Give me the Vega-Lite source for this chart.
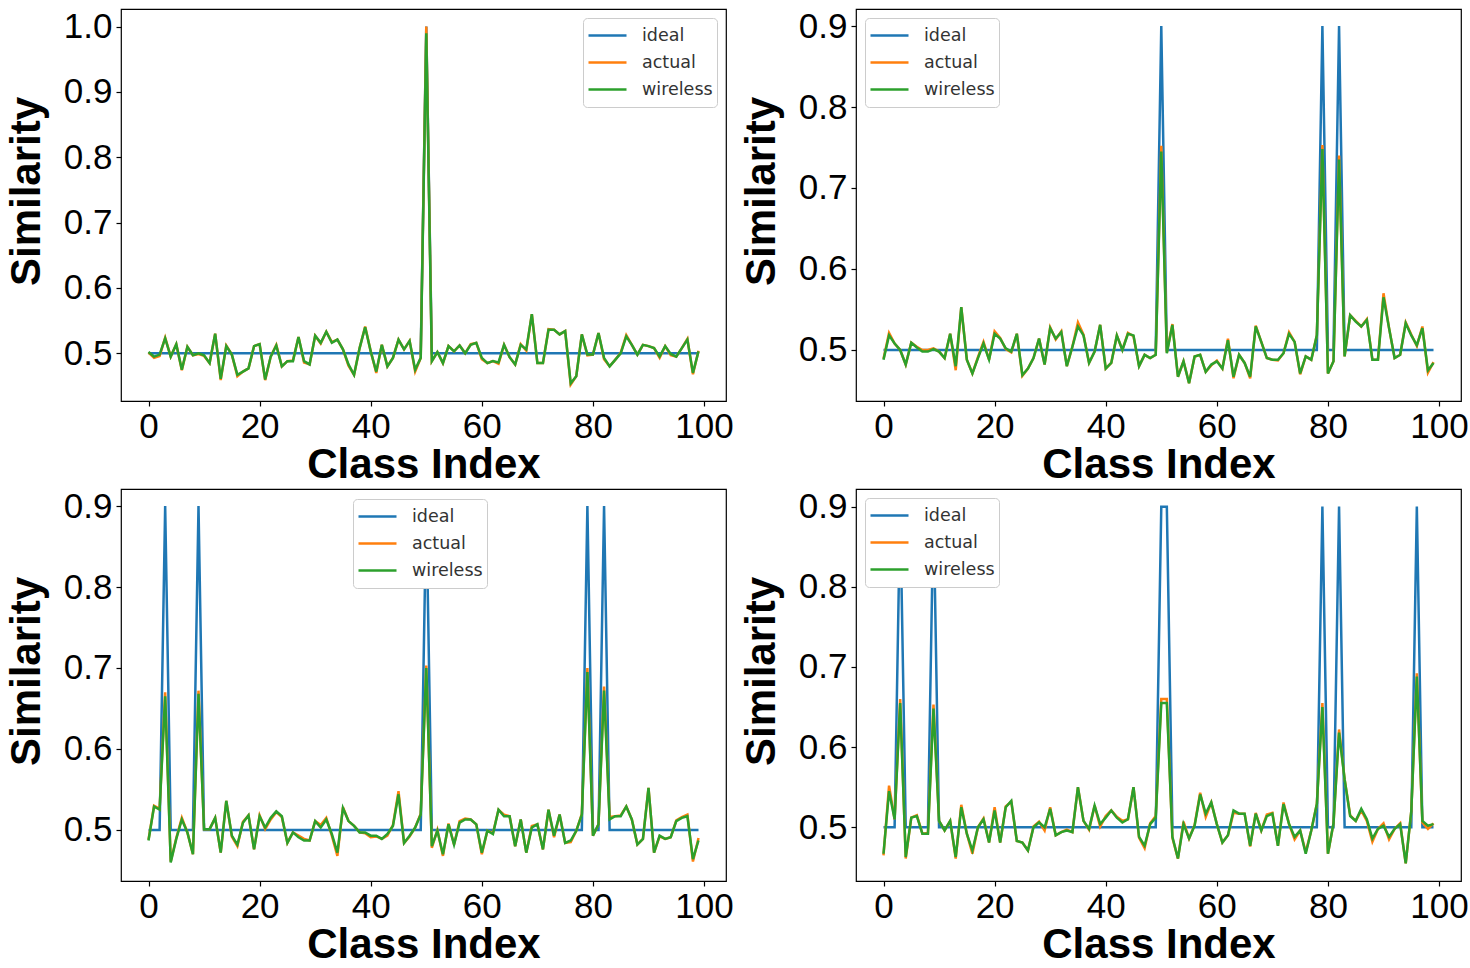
{
"$schema": "https://vega.github.io/schema/vega-lite/v6.json",
"background": "white",
"padding": {"left": 4, "top": 8, "right": 0, "bottom": 0},
"datasets": {
"p1": [
{"i":0,"ideal":0.5,"actual":0.501,"wireless":0.502},{"i":1,"ideal":0.5,"actual":0.493,"wireless":0.495},{"i":2,"ideal":0.5,"actual":0.496,"wireless":0.498},{"i":3,"ideal":0.5,"actual":0.524,"wireless":0.523},{"i":4,"ideal":0.5,"actual":0.495,"wireless":0.495},{"i":5,"ideal":0.5,"actual":0.514,"wireless":0.514},{"i":6,"ideal":0.5,"actual":0.474,"wireless":0.475},{"i":7,"ideal":0.5,"actual":0.510,"wireless":0.510},{"i":8,"ideal":0.5,"actual":0.497,"wireless":0.497},{"i":9,"ideal":0.5,"actual":0.499,"wireless":0.500},
{"i":10,"ideal":0.5,"actual":0.496,"wireless":0.497},{"i":11,"ideal":0.5,"actual":0.485,"wireless":0.485},{"i":12,"ideal":0.5,"actual":0.530,"wireless":0.530},{"i":13,"ideal":0.5,"actual":0.459,"wireless":0.461},{"i":14,"ideal":0.5,"actual":0.512,"wireless":0.511},{"i":15,"ideal":0.5,"actual":0.498,"wireless":0.498},{"i":16,"ideal":0.5,"actual":0.465,"wireless":0.467},{"i":17,"ideal":0.5,"actual":0.472,"wireless":0.472},{"i":18,"ideal":0.5,"actual":0.477,"wireless":0.477},{"i":19,"ideal":0.5,"actual":0.511,"wireless":0.511},
{"i":20,"ideal":0.5,"actual":0.514,"wireless":0.514},{"i":21,"ideal":0.5,"actual":0.459,"wireless":0.460},{"i":22,"ideal":0.5,"actual":0.495,"wireless":0.495},{"i":23,"ideal":0.5,"actual":0.513,"wireless":0.512},{"i":24,"ideal":0.5,"actual":0.480,"wireless":0.480},{"i":25,"ideal":0.5,"actual":0.488,"wireless":0.488},{"i":26,"ideal":0.5,"actual":0.489,"wireless":0.488},{"i":27,"ideal":0.5,"actual":0.525,"wireless":0.525},{"i":28,"ideal":0.5,"actual":0.486,"wireless":0.488},{"i":29,"ideal":0.5,"actual":0.483,"wireless":0.483},
{"i":30,"ideal":0.5,"actual":0.527,"wireless":0.527},{"i":31,"ideal":0.5,"actual":0.515,"wireless":0.516},{"i":32,"ideal":0.5,"actual":0.533,"wireless":0.533},{"i":33,"ideal":0.5,"actual":0.517,"wireless":0.516},{"i":34,"ideal":0.5,"actual":0.521,"wireless":0.521},{"i":35,"ideal":0.5,"actual":0.506,"wireless":0.506},{"i":36,"ideal":0.5,"actual":0.481,"wireless":0.483},{"i":37,"ideal":0.5,"actual":0.467,"wireless":0.467},{"i":38,"ideal":0.5,"actual":0.508,"wireless":0.508},{"i":39,"ideal":0.5,"actual":0.541,"wireless":0.540},
{"i":40,"ideal":0.5,"actual":0.503,"wireless":0.503},{"i":41,"ideal":0.5,"actual":0.470,"wireless":0.472},{"i":42,"ideal":0.5,"actual":0.513,"wireless":0.513},{"i":43,"ideal":0.5,"actual":0.480,"wireless":0.480},{"i":44,"ideal":0.5,"actual":0.493,"wireless":0.493},{"i":45,"ideal":0.5,"actual":0.521,"wireless":0.521},{"i":46,"ideal":0.5,"actual":0.506,"wireless":0.506},{"i":47,"ideal":0.5,"actual":0.519,"wireless":0.519},{"i":48,"ideal":0.5,"actual":0.472,"wireless":0.475},{"i":49,"ideal":0.5,"actual":0.493,"wireless":0.493},
{"i":50,"ideal":1.0,"actual":1.0,"wireless":0.99},{"i":51,"ideal":0.5,"actual":0.488,"wireless":0.488},{"i":52,"ideal":0.5,"actual":0.502,"wireless":0.502},{"i":53,"ideal":0.5,"actual":0.485,"wireless":0.485},{"i":54,"ideal":0.5,"actual":0.511,"wireless":0.511},{"i":55,"ideal":0.5,"actual":0.503,"wireless":0.503},{"i":56,"ideal":0.5,"actual":0.512,"wireless":0.512},{"i":57,"ideal":0.5,"actual":0.500,"wireless":0.500},{"i":58,"ideal":0.5,"actual":0.514,"wireless":0.513},{"i":59,"ideal":0.5,"actual":0.516,"wireless":0.516},
{"i":60,"ideal":0.5,"actual":0.491,"wireless":0.493},{"i":61,"ideal":0.5,"actual":0.485,"wireless":0.485},{"i":62,"ideal":0.5,"actual":0.488,"wireless":0.488},{"i":63,"ideal":0.5,"actual":0.484,"wireless":0.486},{"i":64,"ideal":0.5,"actual":0.513,"wireless":0.513},{"i":65,"ideal":0.5,"actual":0.494,"wireless":0.494},{"i":66,"ideal":0.5,"actual":0.483,"wireless":0.483},{"i":67,"ideal":0.5,"actual":0.514,"wireless":0.513},{"i":68,"ideal":0.5,"actual":0.504,"wireless":0.506},{"i":69,"ideal":0.5,"actual":0.560,"wireless":0.560},
{"i":70,"ideal":0.5,"actual":0.485,"wireless":0.485},{"i":71,"ideal":0.5,"actual":0.485,"wireless":0.485},{"i":72,"ideal":0.5,"actual":0.537,"wireless":0.536},{"i":73,"ideal":0.5,"actual":0.536,"wireless":0.536},{"i":74,"ideal":0.5,"actual":0.529,"wireless":0.529},{"i":75,"ideal":0.5,"actual":0.534,"wireless":0.534},{"i":76,"ideal":0.5,"actual":0.452,"wireless":0.454},{"i":77,"ideal":0.5,"actual":0.465,"wireless":0.465},{"i":78,"ideal":0.5,"actual":0.529,"wireless":0.529},{"i":79,"ideal":0.5,"actual":0.497,"wireless":0.498},
{"i":80,"ideal":0.5,"actual":0.498,"wireless":0.498},{"i":81,"ideal":0.5,"actual":0.531,"wireless":0.531},{"i":82,"ideal":0.5,"actual":0.491,"wireless":0.493},{"i":83,"ideal":0.5,"actual":0.480,"wireless":0.480},{"i":84,"ideal":0.5,"actual":0.490,"wireless":0.490},{"i":85,"ideal":0.5,"actual":0.501,"wireless":0.500},{"i":86,"ideal":0.5,"actual":0.528,"wireless":0.526},{"i":87,"ideal":0.5,"actual":0.513,"wireless":0.513},{"i":88,"ideal":0.5,"actual":0.498,"wireless":0.498},{"i":89,"ideal":0.5,"actual":0.513,"wireless":0.513},
{"i":90,"ideal":0.5,"actual":0.511,"wireless":0.511},{"i":91,"ideal":0.5,"actual":0.508,"wireless":0.508},{"i":92,"ideal":0.5,"actual":0.493,"wireless":0.495},{"i":93,"ideal":0.5,"actual":0.511,"wireless":0.511},{"i":94,"ideal":0.5,"actual":0.497,"wireless":0.499},{"i":95,"ideal":0.5,"actual":0.495,"wireless":0.495},{"i":96,"ideal":0.5,"actual":0.508,"wireless":0.508},{"i":97,"ideal":0.5,"actual":0.522,"wireless":0.521},{"i":98,"ideal":0.5,"actual":0.468,"wireless":0.470},{"i":99,"ideal":0.5,"actual":0.504,"wireless":0.503}
],
"p2": [
{"i":0,"ideal":0.5,"actual":0.489,"wireless":0.488},{"i":1,"ideal":0.5,"actual":0.521,"wireless":0.518},{"i":2,"ideal":0.5,"actual":0.508,"wireless":0.508},{"i":3,"ideal":0.5,"actual":0.500,"wireless":0.500},{"i":4,"ideal":0.5,"actual":0.482,"wireless":0.482},{"i":5,"ideal":0.5,"actual":0.509,"wireless":0.509},{"i":6,"ideal":0.5,"actual":0.504,"wireless":0.503},{"i":7,"ideal":0.5,"actual":0.500,"wireless":0.498},{"i":8,"ideal":0.5,"actual":0.500,"wireless":0.498},{"i":9,"ideal":0.5,"actual":0.502,"wireless":0.501},
{"i":10,"ideal":0.5,"actual":0.498,"wireless":0.498},{"i":11,"ideal":0.5,"actual":0.490,"wireless":0.490},{"i":12,"ideal":0.5,"actual":0.520,"wireless":0.520},{"i":13,"ideal":0.5,"actual":0.475,"wireless":0.480},{"i":14,"ideal":0.5,"actual":0.553,"wireless":0.553},{"i":15,"ideal":0.5,"actual":0.488,"wireless":0.488},{"i":16,"ideal":0.5,"actual":0.471,"wireless":0.471},{"i":17,"ideal":0.5,"actual":0.491,"wireless":0.490},{"i":18,"ideal":0.5,"actual":0.510,"wireless":0.508},{"i":19,"ideal":0.5,"actual":0.488,"wireless":0.488},
{"i":20,"ideal":0.5,"actual":0.523,"wireless":0.520},{"i":21,"ideal":0.5,"actual":0.515,"wireless":0.514},{"i":22,"ideal":0.5,"actual":0.501,"wireless":0.502},{"i":23,"ideal":0.5,"actual":0.497,"wireless":0.498},{"i":24,"ideal":0.5,"actual":0.520,"wireless":0.520},{"i":25,"ideal":0.5,"actual":0.468,"wireless":0.469},{"i":26,"ideal":0.5,"actual":0.477,"wireless":0.477},{"i":27,"ideal":0.5,"actual":0.490,"wireless":0.490},{"i":28,"ideal":0.5,"actual":0.514,"wireless":0.514},{"i":29,"ideal":0.5,"actual":0.482,"wireless":0.482},
{"i":30,"ideal":0.5,"actual":0.528,"wireless":0.527},{"i":31,"ideal":0.5,"actual":0.513,"wireless":0.514},{"i":32,"ideal":0.5,"actual":0.523,"wireless":0.522},{"i":33,"ideal":0.5,"actual":0.480,"wireless":0.480},{"i":34,"ideal":0.5,"actual":0.504,"wireless":0.504},{"i":35,"ideal":0.5,"actual":0.534,"wireless":0.529},{"i":36,"ideal":0.5,"actual":0.519,"wireless":0.518},{"i":37,"ideal":0.5,"actual":0.484,"wireless":0.484},{"i":38,"ideal":0.5,"actual":0.498,"wireless":0.498},{"i":39,"ideal":0.5,"actual":0.531,"wireless":0.531},
{"i":40,"ideal":0.5,"actual":0.477,"wireless":0.477},{"i":41,"ideal":0.5,"actual":0.484,"wireless":0.484},{"i":42,"ideal":0.5,"actual":0.518,"wireless":0.518},{"i":43,"ideal":0.5,"actual":0.500,"wireless":0.500},{"i":44,"ideal":0.5,"actual":0.521,"wireless":0.520},{"i":45,"ideal":0.5,"actual":0.517,"wireless":0.518},{"i":46,"ideal":0.5,"actual":0.480,"wireless":0.480},{"i":47,"ideal":0.5,"actual":0.494,"wireless":0.494},{"i":48,"ideal":0.5,"actual":0.490,"wireless":0.490},{"i":49,"ideal":0.5,"actual":0.494,"wireless":0.494},
{"i":50,"ideal":0.9,"actual":0.752,"wireless":0.745},{"i":51,"ideal":0.5,"actual":0.497,"wireless":0.496},{"i":52,"ideal":0.5,"actual":0.532,"wireless":0.531},{"i":53,"ideal":0.5,"actual":0.467,"wireless":0.467},{"i":54,"ideal":0.5,"actual":0.486,"wireless":0.486},{"i":55,"ideal":0.5,"actual":0.459,"wireless":0.459},{"i":56,"ideal":0.5,"actual":0.492,"wireless":0.492},{"i":57,"ideal":0.5,"actual":0.494,"wireless":0.494},{"i":58,"ideal":0.5,"actual":0.473,"wireless":0.473},{"i":59,"ideal":0.5,"actual":0.481,"wireless":0.482},
{"i":60,"ideal":0.5,"actual":0.487,"wireless":0.486},{"i":61,"ideal":0.5,"actual":0.477,"wireless":0.477},{"i":62,"ideal":0.5,"actual":0.514,"wireless":0.512},{"i":63,"ideal":0.5,"actual":0.465,"wireless":0.467},{"i":64,"ideal":0.5,"actual":0.494,"wireless":0.494},{"i":65,"ideal":0.5,"actual":0.484,"wireless":0.484},{"i":66,"ideal":0.5,"actual":0.465,"wireless":0.467},{"i":67,"ideal":0.5,"actual":0.530,"wireless":0.529},{"i":68,"ideal":0.5,"actual":0.510,"wireless":0.510},{"i":69,"ideal":0.5,"actual":0.490,"wireless":0.490},
{"i":70,"ideal":0.5,"actual":0.488,"wireless":0.488},{"i":71,"ideal":0.5,"actual":0.487,"wireless":0.488},{"i":72,"ideal":0.5,"actual":0.496,"wireless":0.496},{"i":73,"ideal":0.5,"actual":0.522,"wireless":0.520},{"i":74,"ideal":0.5,"actual":0.510,"wireless":0.510},{"i":75,"ideal":0.5,"actual":0.470,"wireless":0.471},{"i":76,"ideal":0.5,"actual":0.492,"wireless":0.492},{"i":77,"ideal":0.5,"actual":0.488,"wireless":0.488},{"i":78,"ideal":0.5,"actual":0.518,"wireless":0.518},{"i":79,"ideal":0.9,"actual":0.753,"wireless":0.748},
{"i":80,"ideal":0.5,"actual":0.471,"wireless":0.471},{"i":81,"ideal":0.5,"actual":0.486,"wireless":0.486},{"i":82,"ideal":0.9,"actual":0.740,"wireless":0.735},{"i":83,"ideal":0.5,"actual":0.492,"wireless":0.492},{"i":84,"ideal":0.5,"actual":0.543,"wireless":0.543},{"i":85,"ideal":0.5,"actual":0.536,"wireless":0.535},{"i":86,"ideal":0.5,"actual":0.529,"wireless":0.529},{"i":87,"ideal":0.5,"actual":0.538,"wireless":0.537},{"i":88,"ideal":0.5,"actual":0.488,"wireless":0.488},{"i":89,"ideal":0.5,"actual":0.488,"wireless":0.488},
{"i":90,"ideal":0.5,"actual":0.570,"wireless":0.565},{"i":91,"ideal":0.5,"actual":0.527,"wireless":0.527},{"i":92,"ideal":0.5,"actual":0.490,"wireless":0.490},{"i":93,"ideal":0.5,"actual":0.494,"wireless":0.494},{"i":94,"ideal":0.5,"actual":0.534,"wireless":0.533},{"i":95,"ideal":0.5,"actual":0.519,"wireless":0.518},{"i":96,"ideal":0.5,"actual":0.505,"wireless":0.506},{"i":97,"ideal":0.5,"actual":0.529,"wireless":0.527},{"i":98,"ideal":0.5,"actual":0.472,"wireless":0.475},{"i":99,"ideal":0.5,"actual":0.485,"wireless":0.484}
],
"p3": [
{"i":0,"ideal":0.5,"actual":0.488,"wireless":0.487},{"i":1,"ideal":0.5,"actual":0.530,"wireless":0.529},{"i":2,"ideal":0.5,"actual":0.526,"wireless":0.525},{"i":3,"ideal":0.9,"actual":0.670,"wireless":0.665},{"i":4,"ideal":0.5,"actual":0.461,"wireless":0.460},{"i":5,"ideal":0.5,"actual":0.490,"wireless":0.489},{"i":6,"ideal":0.5,"actual":0.515,"wireless":0.513},{"i":7,"ideal":0.5,"actual":0.497,"wireless":0.497},{"i":8,"ideal":0.5,"actual":0.470,"wireless":0.470},{"i":9,"ideal":0.9,"actual":0.672,"wireless":0.668},
{"i":10,"ideal":0.5,"actual":0.501,"wireless":0.501},{"i":11,"ideal":0.5,"actual":0.501,"wireless":0.501},{"i":12,"ideal":0.5,"actual":0.515,"wireless":0.515},{"i":13,"ideal":0.5,"actual":0.472,"wireless":0.472},{"i":14,"ideal":0.5,"actual":0.536,"wireless":0.536},{"i":15,"ideal":0.5,"actual":0.492,"wireless":0.493},{"i":16,"ideal":0.5,"actual":0.480,"wireless":0.482},{"i":17,"ideal":0.5,"actual":0.510,"wireless":0.509},{"i":18,"ideal":0.5,"actual":0.518,"wireless":0.518},{"i":19,"ideal":0.5,"actual":0.476,"wireless":0.476},
{"i":20,"ideal":0.5,"actual":0.518,"wireless":0.517},{"i":21,"ideal":0.5,"actual":0.501,"wireless":0.503},{"i":22,"ideal":0.5,"actual":0.513,"wireless":0.515},{"i":23,"ideal":0.5,"actual":0.522,"wireless":0.523},{"i":24,"ideal":0.5,"actual":0.516,"wireless":0.517},{"i":25,"ideal":0.5,"actual":0.484,"wireless":0.484},{"i":26,"ideal":0.5,"actual":0.497,"wireless":0.497},{"i":27,"ideal":0.5,"actual":0.493,"wireless":0.491},{"i":28,"ideal":0.5,"actual":0.489,"wireless":0.487},{"i":29,"ideal":0.5,"actual":0.487,"wireless":0.487},
{"i":30,"ideal":0.5,"actual":0.511,"wireless":0.511},{"i":31,"ideal":0.5,"actual":0.506,"wireless":0.503},{"i":32,"ideal":0.5,"actual":0.515,"wireless":0.513},{"i":33,"ideal":0.5,"actual":0.493,"wireless":0.495},{"i":34,"ideal":0.5,"actual":0.468,"wireless":0.472},{"i":35,"ideal":0.5,"actual":0.528,"wireless":0.527},{"i":36,"ideal":0.5,"actual":0.511,"wireless":0.511},{"i":37,"ideal":0.5,"actual":0.505,"wireless":0.505},{"i":38,"ideal":0.5,"actual":0.497,"wireless":0.497},{"i":39,"ideal":0.5,"actual":0.496,"wireless":0.497},
{"i":40,"ideal":0.5,"actual":0.491,"wireless":0.493},{"i":41,"ideal":0.5,"actual":0.492,"wireless":0.493},{"i":42,"ideal":0.5,"actual":0.489,"wireless":0.489},{"i":43,"ideal":0.5,"actual":0.493,"wireless":0.495},{"i":44,"ideal":0.5,"actual":0.506,"wireless":0.505},{"i":45,"ideal":0.5,"actual":0.548,"wireless":0.544},{"i":46,"ideal":0.5,"actual":0.484,"wireless":0.484},{"i":47,"ideal":0.5,"actual":0.492,"wireless":0.493},{"i":48,"ideal":0.5,"actual":0.503,"wireless":0.503},{"i":49,"ideal":0.5,"actual":0.520,"wireless":0.519},
{"i":50,"ideal":0.9,"actual":0.703,"wireless":0.700},{"i":51,"ideal":0.5,"actual":0.478,"wireless":0.480},{"i":52,"ideal":0.5,"actual":0.500,"wireless":0.499},{"i":53,"ideal":0.5,"actual":0.468,"wireless":0.470},{"i":54,"ideal":0.5,"actual":0.508,"wireless":0.507},{"i":55,"ideal":0.5,"actual":0.482,"wireless":0.482},{"i":56,"ideal":0.5,"actual":0.511,"wireless":0.509},{"i":57,"ideal":0.5,"actual":0.514,"wireless":0.513},{"i":58,"ideal":0.5,"actual":0.513,"wireless":0.513},{"i":59,"ideal":0.5,"actual":0.507,"wireless":0.507},
{"i":60,"ideal":0.5,"actual":0.470,"wireless":0.472},{"i":61,"ideal":0.5,"actual":0.499,"wireless":0.499},{"i":62,"ideal":0.5,"actual":0.496,"wireless":0.495},{"i":63,"ideal":0.5,"actual":0.525,"wireless":0.525},{"i":64,"ideal":0.5,"actual":0.519,"wireless":0.517},{"i":65,"ideal":0.5,"actual":0.517,"wireless":0.517},{"i":66,"ideal":0.5,"actual":0.480,"wireless":0.480},{"i":67,"ideal":0.5,"actual":0.513,"wireless":0.513},{"i":68,"ideal":0.5,"actual":0.472,"wireless":0.472},{"i":69,"ideal":0.5,"actual":0.505,"wireless":0.503},
{"i":70,"ideal":0.5,"actual":0.507,"wireless":0.507},{"i":71,"ideal":0.5,"actual":0.476,"wireless":0.476},{"i":72,"ideal":0.5,"actual":0.525,"wireless":0.525},{"i":73,"ideal":0.5,"actual":0.491,"wireless":0.493},{"i":74,"ideal":0.5,"actual":0.519,"wireless":0.519},{"i":75,"ideal":0.5,"actual":0.484,"wireless":0.484},{"i":76,"ideal":0.5,"actual":0.485,"wireless":0.487},{"i":77,"ideal":0.5,"actual":0.499,"wireless":0.499},{"i":78,"ideal":0.5,"actual":0.520,"wireless":0.519},{"i":79,"ideal":0.9,"actual":0.700,"wireless":0.695},
{"i":80,"ideal":0.5,"actual":0.493,"wireless":0.493},{"i":81,"ideal":0.5,"actual":0.507,"wireless":0.507},{"i":82,"ideal":0.9,"actual":0.677,"wireless":0.672},{"i":83,"ideal":0.5,"actual":0.516,"wireless":0.513},{"i":84,"ideal":0.5,"actual":0.517,"wireless":0.517},{"i":85,"ideal":0.5,"actual":0.518,"wireless":0.517},{"i":86,"ideal":0.5,"actual":0.529,"wireless":0.529},{"i":87,"ideal":0.5,"actual":0.513,"wireless":0.513},{"i":88,"ideal":0.5,"actual":0.482,"wireless":0.482},{"i":89,"ideal":0.5,"actual":0.489,"wireless":0.489},
{"i":90,"ideal":0.5,"actual":0.552,"wireless":0.552},{"i":91,"ideal":0.5,"actual":0.472,"wireless":0.472},{"i":92,"ideal":0.5,"actual":0.492,"wireless":0.493},{"i":93,"ideal":0.5,"actual":0.489,"wireless":0.489},{"i":94,"ideal":0.5,"actual":0.491,"wireless":0.491},{"i":95,"ideal":0.5,"actual":0.512,"wireless":0.511},{"i":96,"ideal":0.5,"actual":0.516,"wireless":0.515},{"i":97,"ideal":0.5,"actual":0.519,"wireless":0.517},{"i":98,"ideal":0.5,"actual":0.461,"wireless":0.464},{"i":99,"ideal":0.5,"actual":0.490,"wireless":0.487}
],
"p4": [
{"i":0,"ideal":0.5,"actual":0.465,"wireless":0.467},{"i":1,"ideal":0.5,"actual":0.552,"wireless":0.545},{"i":2,"ideal":0.5,"actual":0.510,"wireless":0.510},{"i":3,"ideal":0.9,"actual":0.660,"wireless":0.655},{"i":4,"ideal":0.5,"actual":0.461,"wireless":0.463},{"i":5,"ideal":0.5,"actual":0.512,"wireless":0.512},{"i":6,"ideal":0.5,"actual":0.515,"wireless":0.514},{"i":7,"ideal":0.5,"actual":0.492,"wireless":0.492},{"i":8,"ideal":0.5,"actual":0.493,"wireless":0.492},{"i":9,"ideal":0.9,"actual":0.653,"wireless":0.648},
{"i":10,"ideal":0.5,"actual":0.508,"wireless":0.508},{"i":11,"ideal":0.5,"actual":0.496,"wireless":0.496},{"i":12,"ideal":0.5,"actual":0.508,"wireless":0.508},{"i":13,"ideal":0.5,"actual":0.461,"wireless":0.463},{"i":14,"ideal":0.5,"actual":0.528,"wireless":0.525},{"i":15,"ideal":0.5,"actual":0.492,"wireless":0.492},{"i":16,"ideal":0.5,"actual":0.467,"wireless":0.471},{"i":17,"ideal":0.5,"actual":0.500,"wireless":0.500},{"i":18,"ideal":0.5,"actual":0.511,"wireless":0.510},{"i":19,"ideal":0.5,"actual":0.481,"wireless":0.481},
{"i":20,"ideal":0.5,"actual":0.525,"wireless":0.521},{"i":21,"ideal":0.5,"actual":0.481,"wireless":0.481},{"i":22,"ideal":0.5,"actual":0.526,"wireless":0.525},{"i":23,"ideal":0.5,"actual":0.532,"wireless":0.533},{"i":24,"ideal":0.5,"actual":0.483,"wireless":0.483},{"i":25,"ideal":0.5,"actual":0.481,"wireless":0.481},{"i":26,"ideal":0.5,"actual":0.471,"wireless":0.471},{"i":27,"ideal":0.5,"actual":0.501,"wireless":0.500},{"i":28,"ideal":0.5,"actual":0.507,"wireless":0.506},{"i":29,"ideal":0.5,"actual":0.496,"wireless":0.500},
{"i":30,"ideal":0.5,"actual":0.525,"wireless":0.523},{"i":31,"ideal":0.5,"actual":0.490,"wireless":0.490},{"i":32,"ideal":0.5,"actual":0.494,"wireless":0.494},{"i":33,"ideal":0.5,"actual":0.497,"wireless":0.496},{"i":34,"ideal":0.5,"actual":0.494,"wireless":0.494},{"i":35,"ideal":0.5,"actual":0.550,"wireless":0.550},{"i":36,"ideal":0.5,"actual":0.508,"wireless":0.508},{"i":37,"ideal":0.5,"actual":0.497,"wireless":0.498},{"i":38,"ideal":0.5,"actual":0.527,"wireless":0.527},{"i":39,"ideal":0.5,"actual":0.501,"wireless":0.504},
{"i":40,"ideal":0.5,"actual":0.514,"wireless":0.512},{"i":41,"ideal":0.5,"actual":0.521,"wireless":0.521},{"i":42,"ideal":0.5,"actual":0.513,"wireless":0.512},{"i":43,"ideal":0.5,"actual":0.508,"wireless":0.506},{"i":44,"ideal":0.5,"actual":0.510,"wireless":0.510},{"i":45,"ideal":0.5,"actual":0.550,"wireless":0.550},{"i":46,"ideal":0.5,"actual":0.487,"wireless":0.488},{"i":47,"ideal":0.5,"actual":0.474,"wireless":0.477},{"i":48,"ideal":0.5,"actual":0.505,"wireless":0.504},{"i":49,"ideal":0.5,"actual":0.514,"wireless":0.512},
{"i":50,"ideal":0.9,"actual":0.660,"wireless":0.655},{"i":51,"ideal":0.9,"actual":0.660,"wireless":0.655},{"i":52,"ideal":0.5,"actual":0.487,"wireless":0.488},{"i":53,"ideal":0.5,"actual":0.461,"wireless":0.461},{"i":54,"ideal":0.5,"actual":0.507,"wireless":0.504},{"i":55,"ideal":0.5,"actual":0.486,"wireless":0.486},{"i":56,"ideal":0.5,"actual":0.503,"wireless":0.502},{"i":57,"ideal":0.5,"actual":0.543,"wireless":0.541},{"i":58,"ideal":0.5,"actual":0.513,"wireless":0.517},{"i":59,"ideal":0.5,"actual":0.531,"wireless":0.531},
{"i":60,"ideal":0.5,"actual":0.504,"wireless":0.504},{"i":61,"ideal":0.5,"actual":0.481,"wireless":0.481},{"i":62,"ideal":0.5,"actual":0.490,"wireless":0.490},{"i":63,"ideal":0.5,"actual":0.518,"wireless":0.521},{"i":64,"ideal":0.5,"actual":0.517,"wireless":0.517},{"i":65,"ideal":0.5,"actual":0.517,"wireless":0.517},{"i":66,"ideal":0.5,"actual":0.476,"wireless":0.477},{"i":67,"ideal":0.5,"actual":0.518,"wireless":0.517},{"i":68,"ideal":0.5,"actual":0.496,"wireless":0.496},{"i":69,"ideal":0.5,"actual":0.516,"wireless":0.514},
{"i":70,"ideal":0.5,"actual":0.518,"wireless":0.517},{"i":71,"ideal":0.5,"actual":0.477,"wireless":0.477},{"i":72,"ideal":0.5,"actual":0.531,"wireless":0.529},{"i":73,"ideal":0.5,"actual":0.504,"wireless":0.504},{"i":74,"ideal":0.5,"actual":0.485,"wireless":0.488},{"i":75,"ideal":0.5,"actual":0.496,"wireless":0.496},{"i":76,"ideal":0.5,"actual":0.469,"wireless":0.467},{"i":77,"ideal":0.5,"actual":0.496,"wireless":0.496},{"i":78,"ideal":0.5,"actual":0.529,"wireless":0.529},{"i":79,"ideal":0.9,"actual":0.655,"wireless":0.650},
{"i":80,"ideal":0.5,"actual":0.467,"wireless":0.467},{"i":81,"ideal":0.5,"actual":0.505,"wireless":0.505},{"i":82,"ideal":0.9,"actual":0.622,"wireless":0.618},{"i":83,"ideal":0.5,"actual":0.560,"wireless":0.560},{"i":84,"ideal":0.5,"actual":0.515,"wireless":0.514},{"i":85,"ideal":0.5,"actual":0.508,"wireless":0.508},{"i":86,"ideal":0.5,"actual":0.521,"wireless":0.523},{"i":87,"ideal":0.5,"actual":0.508,"wireless":0.510},{"i":88,"ideal":0.5,"actual":0.482,"wireless":0.486},{"i":89,"ideal":0.5,"actual":0.498,"wireless":0.498},
{"i":90,"ideal":0.5,"actual":0.505,"wireless":0.502},{"i":91,"ideal":0.5,"actual":0.485,"wireless":0.488},{"i":92,"ideal":0.5,"actual":0.498,"wireless":0.498},{"i":93,"ideal":0.5,"actual":0.505,"wireless":0.504},{"i":94,"ideal":0.5,"actual":0.455,"wireless":0.455},{"i":95,"ideal":0.5,"actual":0.520,"wireless":0.520},{"i":96,"ideal":0.9,"actual":0.692,"wireless":0.688},{"i":97,"ideal":0.5,"actual":0.506,"wireless":0.508},{"i":98,"ideal":0.5,"actual":0.498,"wireless":0.502},{"i":99,"ideal":0.5,"actual":0.505,"wireless":0.504}
]
},
"columns": 2,
"spacing": {"column": 5, "row": 2},
"concat": [
{
 "width": 605, "height": 392,
 "data": {"name": "p1"},
 "transform": [{"fold": ["ideal", "actual", "wireless"], "as": ["series", "value"]}],
 "mark": {"type": "line", "strokeWidth": 2.5},
 "encoding": {
  "x": {"field": "i", "type": "quantitative", "scale": {"domain": [-4.95, 103.95], "nice": false, "zero": false}, "axis": {"values": [0, 20, 40, 60, 80, 100], "title": "Class Index"}},
  "y": {"field": "value", "type": "quantitative", "scale": {"domain": [0.427, 1.027], "nice": false, "zero": false}, "axis": {"values": [0.5, 0.6, 0.7, 0.8, 0.9, 1.0], "format": ".1f", "title": "Similarity"}},
  "color": {"field": "series", "type": "nominal", "sort": ["ideal", "actual", "wireless"], "scale": {"domain": ["ideal", "actual", "wireless"], "range": ["#1f77b4", "#ff7f0e", "#2ca02c"]}, "legend": {"title": null, "orient": "top-right", "offset": 9}}
 }
},
{
 "width": 605, "height": 392,
 "data": {"name": "p2"},
 "transform": [{"fold": ["ideal", "actual", "wireless"], "as": ["series", "value"]}],
 "mark": {"type": "line", "strokeWidth": 2.5},
 "encoding": {
  "x": {"field": "i", "type": "quantitative", "scale": {"domain": [-4.95, 103.95], "nice": false, "zero": false}, "axis": {"values": [0, 20, 40, 60, 80, 100], "title": "Class Index"}},
  "y": {"field": "value", "type": "quantitative", "scale": {"domain": [0.437, 0.921], "nice": false, "zero": false}, "axis": {"values": [0.5, 0.6, 0.7, 0.8, 0.9], "format": ".1f", "title": "Similarity"}},
  "color": {"field": "series", "type": "nominal", "sort": ["ideal", "actual", "wireless"], "scale": {"domain": ["ideal", "actual", "wireless"], "range": ["#1f77b4", "#ff7f0e", "#2ca02c"]}, "legend": {"title": null, "orient": "top-left", "offset": 9}}
 }
},
{
 "width": 605, "height": 392,
 "data": {"name": "p3"},
 "transform": [{"fold": ["ideal", "actual", "wireless"], "as": ["series", "value"]}],
 "mark": {"type": "line", "strokeWidth": 2.5},
 "encoding": {
  "x": {"field": "i", "type": "quantitative", "scale": {"domain": [-4.95, 103.95], "nice": false, "zero": false}, "axis": {"values": [0, 20, 40, 60, 80, 100], "title": "Class Index"}},
  "y": {"field": "value", "type": "quantitative", "scale": {"domain": [0.437, 0.921], "nice": false, "zero": false}, "axis": {"values": [0.5, 0.6, 0.7, 0.8, 0.9], "format": ".1f", "title": "Similarity"}},
  "color": {"field": "series", "type": "nominal", "sort": ["ideal", "actual", "wireless"], "scale": {"domain": ["ideal", "actual", "wireless"], "range": ["#1f77b4", "#ff7f0e", "#2ca02c"]}, "legend": {"title": null, "orient": "none", "legendX": 232, "legendY": 10}}
 }
},
{
 "width": 605, "height": 392,
 "data": {"name": "p4"},
 "transform": [{"fold": ["ideal", "actual", "wireless"], "as": ["series", "value"]}],
 "mark": {"type": "line", "strokeWidth": 2.5},
 "encoding": {
  "x": {"field": "i", "type": "quantitative", "scale": {"domain": [-4.95, 103.95], "nice": false, "zero": false}, "axis": {"values": [0, 20, 40, 60, 80, 100], "title": "Class Index"}},
  "y": {"field": "value", "type": "quantitative", "scale": {"domain": [0.433, 0.922], "nice": false, "zero": false}, "axis": {"values": [0.5, 0.6, 0.7, 0.8, 0.9], "format": ".1f", "title": "Similarity"}},
  "color": {"field": "series", "type": "nominal", "sort": ["ideal", "actual", "wireless"], "scale": {"domain": ["ideal", "actual", "wireless"], "range": ["#1f77b4", "#ff7f0e", "#2ca02c"]}, "legend": {"title": null, "orient": "top-left", "offset": 9}}
 }
}
],
"resolve": {"scale": {"color": "independent"}, "legend": {"color": "independent"}},
"config": {
 "view": {"stroke": "#000000", "strokeWidth": 1.2},
 "axis": {"domain": false, "grid": false, "ticks": true, "tickColor": "#000000", "tickSize": 5, "tickWidth": 1.2, "labelFont": "Liberation Sans", "labelFontSize": 35, "labelColor": "#000000", "labelPadding": 4, "titleFont": "Liberation Sans", "titleFontSize": 42, "titleFontWeight": "bold", "titleColor": "#000000"},
 "axisX": {"titlePadding": 0, "labelPadding": 3},
 "axisY": {"titlePadding": 15, "titleY": 182},
 "legend": {"labelFont": "DejaVu Sans", "labelFontSize": 17.5, "labelColor": "#333333", "symbolType": "stroke", "symbolSize": 1444, "symbolStrokeWidth": 2.5, "strokeColor": "#cccccc", "fillColor": "#ffffff", "cornerRadius": 4, "padding": 4, "rowPadding": 0, "clipHeight": 27, "labelOffset": 14}
}
}
